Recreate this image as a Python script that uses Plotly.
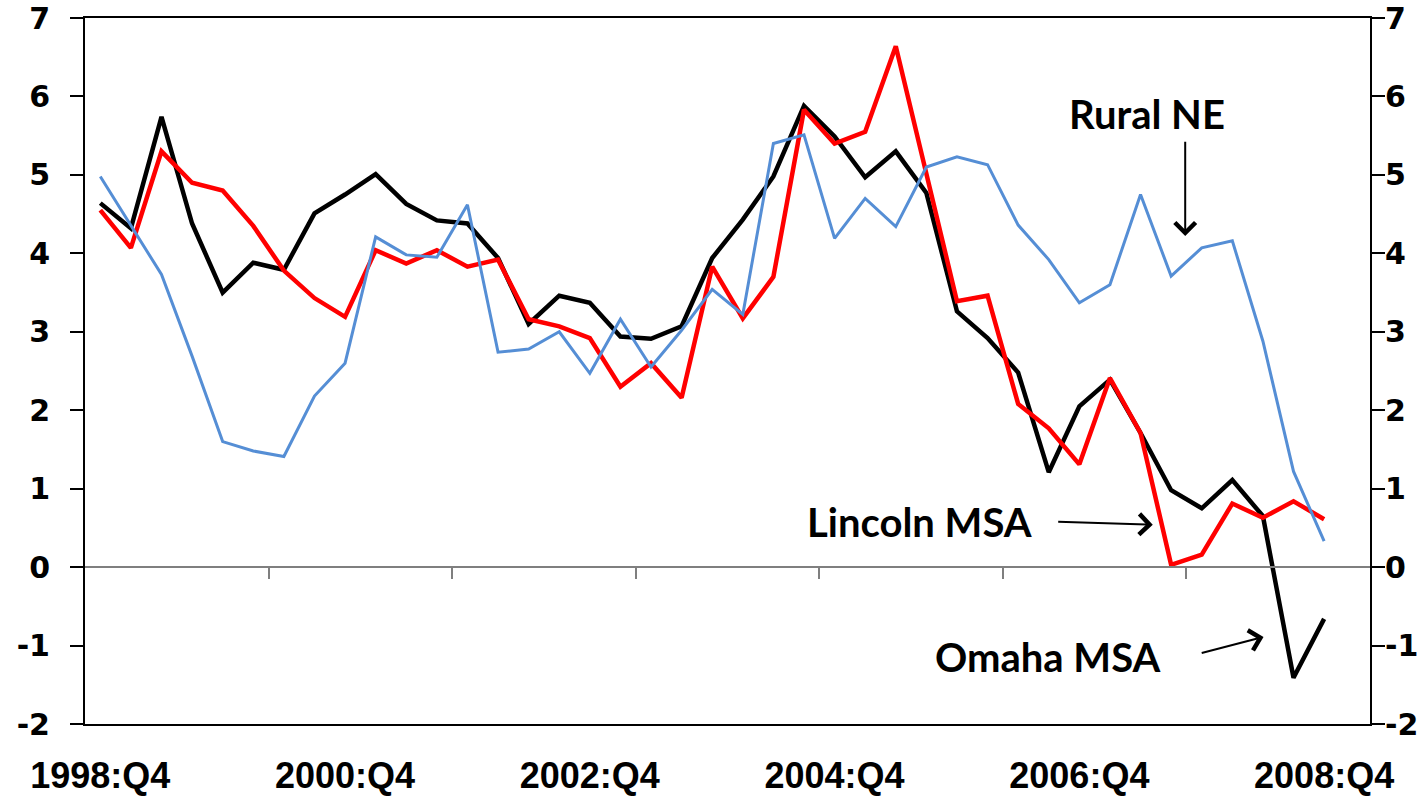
import plotly.graph_objects as go

# Quarter labels 1998:Q4 .. 2008:Q4 (41 quarters); axis has one extra empty slot
quarters = ["1998:Q4"] + [f"{y}:Q{q}" for y in range(1999, 2009) for q in range(1, 5)]
tick_labels = ["1998:Q4", "2000:Q4", "2002:Q4", "2004:Q4", "2006:Q4", "2008:Q4"]
y_ticks = [-2, -1, 0, 1, 2, 3, 4, 5, 6, 7]

omaha = [4.64, 4.32, 5.74, 4.38, 3.50, 3.88, 3.79, 4.51, 4.75, 5.01,
         4.63, 4.42, 4.38, 3.94, 3.10, 3.46, 3.37, 2.94, 2.91, 3.07,
         3.94, 4.43, 4.98, 5.88, 5.49, 4.97, 5.30, 4.77, 3.26, 2.92,
         2.48, 1.21, 2.05, 2.39, 1.71, 0.98, 0.75, 1.11, 0.65, -1.41,
         -0.66]
lincoln = [4.55, 4.07, 5.30, 4.90, 4.80, 4.35, 3.78, 3.43, 3.19, 4.04,
           3.87, 4.04, 3.83, 3.92, 3.16, 3.07, 2.92, 2.30, 2.60, 2.16,
           3.83, 3.17, 3.70, 5.83, 5.40, 5.55, 6.64, 5.02, 3.39, 3.46,
           2.08, 1.77, 1.31, 2.41, 1.71, 0.03, 0.16, 0.81, 0.63, 0.84,
           0.61]
rural = [4.98, 4.36, 3.73, 2.69, 1.60, 1.48, 1.41, 2.18, 2.60, 4.21,
         3.98, 3.95, 4.62, 2.74, 2.78, 3.00, 2.47, 3.16, 2.55, 3.02,
         3.54, 3.22, 5.40, 5.51, 4.19, 4.70, 4.34, 5.10, 5.23, 5.13,
         4.36, 3.92, 3.37, 3.60, 4.75, 3.71, 4.07, 4.16, 2.88, 1.22,
         0.33]

xi = list(range(len(quarters)))
label_pos = [quarters.index(t) for t in tick_labels]
n_slots = len(quarters) + 1
zero_ticks = [k - 0.5 for k in range(6, n_slots, 6)]

fig = go.Figure()
fig.add_trace(go.Scatter(x=xi, y=omaha, mode="lines", name="Omaha MSA",
                         line=dict(color="#000000", width=4.5), xaxis="x", yaxis="y"))
fig.add_trace(go.Scatter(x=xi, y=lincoln, mode="lines", name="Lincoln MSA",
                         line=dict(color="#FF0000", width=4.5), xaxis="x", yaxis="y"))
fig.add_trace(go.Scatter(x=xi, y=rural, mode="lines", name="Rural NE",
                         line=dict(color="#558ED5", width=3), xaxis="x2", yaxis="y2"))

xrange = [-0.5, n_slots - 0.5]
yrange = [-2, 7]
ytick_font = dict(family="DejaVu Sans", size=30, color="black", weight="bold")
ytext = [str(v) for v in y_ticks]

fig.update_layout(
    width=1418, height=798,
    margin=dict(l=85, r=48, t=18, b=74, autoexpand=False),
    paper_bgcolor="white", plot_bgcolor="white",
    showlegend=False,
    xaxis=dict(range=xrange, tickvals=label_pos, ticktext=tick_labels,
               ticks="", showgrid=False, zeroline=False, automargin=False,
               showline=True, mirror=True, linecolor="black", linewidth=2,
               tickfont=dict(family="Liberation Sans", size=36, color="black", weight="bold"),
               ticklabelstandoff=19, ticklabeloverflow="allow"),
    yaxis=dict(range=yrange, tickvals=y_ticks, ticktext=ytext, ticks="outside", ticklen=13,
               tickwidth=1.5, tickcolor="black", showgrid=False, zeroline=False,
               showline=True, mirror=True, linecolor="black", linewidth=2,
               automargin=False, ticklabeloverflow="allow",
               tickfont=ytick_font, ticklabelstandoff=14),
    xaxis2=dict(range=xrange, overlaying="x", anchor="free", position=2 / 9,
                showline=True, linecolor="#7f7f7f", linewidth=1.5, automargin=False,
                ticks="outside", tickvals=zero_ticks, ticklen=11, tickwidth=1.5,
                tickcolor="#7f7f7f", showticklabels=False, showgrid=False, zeroline=False),
    yaxis2=dict(range=yrange, overlaying="y", side="right", anchor="x",
                tickvals=y_ticks, ticktext=ytext, ticks="outside", ticklen=13, tickwidth=1.5,
                tickcolor="black", showgrid=False, zeroline=False, automargin=False,
                showline=True, linecolor="black", linewidth=2, ticklabeloverflow="allow",
                tickfont=ytick_font, ticklabelstandoff=-6),
)

afont = dict(family="Lato", size=40, color="black", weight="bold")
arrow = dict(showarrow=True, arrowhead=4, arrowsize=2.0, arrowwidth=2,
             arrowcolor="black", xref="x", yref="y", axref="x", ayref="y", text="")

fig.add_annotation(x=34.2, y=5.78, text="Rural NE", showarrow=False, font=afont,
                   xref="x", yref="y")
fig.add_annotation(x=35.46, y=4.22, ax=35.46, ay=5.44, **arrow)
fig.add_annotation(x=26.76, y=0.58, text="Lincoln MSA", showarrow=False, font=afont,
                   xref="x", yref="y")
fig.add_annotation(x=34.40, y=0.54, ax=31.26, ay=0.58, **arrow)
fig.add_annotation(x=30.98, y=-1.15, text="Omaha MSA", showarrow=False, font=afont,
                   xref="x", yref="y")
fig.add_annotation(x=38.02, y=-0.89, ax=35.95, ay=-1.10, **arrow)

fig.write_html("out.html", config={"displayModeBar": False},
               post_script="document.body.style.margin='0';document.body.style.overflow='hidden';")
